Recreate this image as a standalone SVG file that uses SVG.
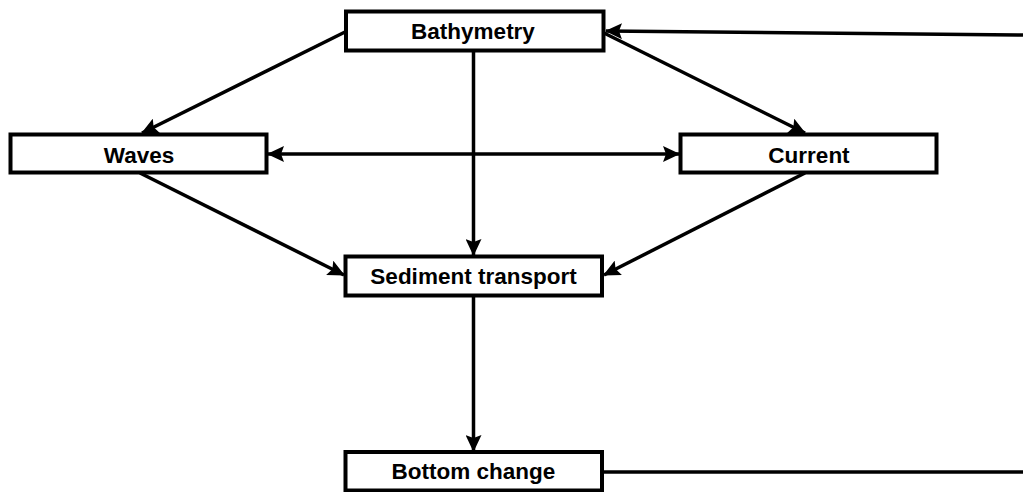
<svg xmlns="http://www.w3.org/2000/svg" width="1023" height="492" viewBox="0 0 1023 492">
  <style>
    .box { fill: #ffffff; stroke: #000000; stroke-width: 4; }
    .lbl { font-family: "Liberation Sans", Arial, sans-serif; font-weight: bold; font-size: 22.5px; fill: #000000; text-anchor: middle; }
    .edge { fill: none; stroke: #000000; stroke-width: 3.5; }
  </style>
  <defs>
    <marker id="arr" markerUnits="userSpaceOnUse" markerWidth="17" markerHeight="16" refX="16" refY="8" orient="auto-start-reverse" viewBox="0 0 17 16">
      <path d="M0,0 L17,8 L0,16 L3,8 Z" fill="#000000"/>
    </marker>
  </defs>
  <rect width="1023" height="492" fill="#ffffff"/>
  <g id="connectors">
    <line class="edge" x1="1023" y1="35" x2="606" y2="31" marker-end="url(#arr)"/>
    <line class="edge" x1="345" y1="32" x2="142" y2="133" marker-end="url(#arr)"/>
    <line class="edge" x1="604" y1="33" x2="805" y2="133" marker-end="url(#arr)"/>
    <line class="edge" x1="473.5" y1="52" x2="473.5" y2="255" marker-end="url(#arr)"/>
    <line class="edge" x1="268" y1="154" x2="679" y2="154" marker-start="url(#arr)" marker-end="url(#arr)"/>
    <line class="edge" x1="140" y1="173" x2="344" y2="275" marker-end="url(#arr)"/>
    <line class="edge" x1="805" y1="173" x2="604" y2="275" marker-end="url(#arr)"/>
    <line class="edge" x1="473.5" y1="297" x2="473.5" y2="451" marker-end="url(#arr)"/>
    <line class="edge" x1="603" y1="472" x2="1023" y2="472"/>
  </g>
  <g id="bathymetry">
    <rect class="box" x="346" y="11.5" width="257.5" height="39"/>
    <text class="lbl" x="473" y="38.5">Bathymetry</text>
  </g>
  <g id="waves">
    <rect class="box" x="10.5" y="134.5" width="256" height="38"/>
    <text class="lbl" x="139" y="162.5">Waves</text>
  </g>
  <g id="current">
    <rect class="box" x="680.5" y="134.5" width="256" height="38"/>
    <text class="lbl" x="809" y="162.5">Current</text>
  </g>
  <g id="sediment-transport">
    <rect class="box" x="345.5" y="256.5" width="256.5" height="39"/>
    <text class="lbl" x="473.5" y="283.5">Sediment transport</text>
  </g>
  <g id="bottom-change">
    <rect class="box" x="345.5" y="452" width="256.5" height="38.5"/>
    <text class="lbl" x="473.5" y="479">Bottom change</text>
  </g>
</svg>
